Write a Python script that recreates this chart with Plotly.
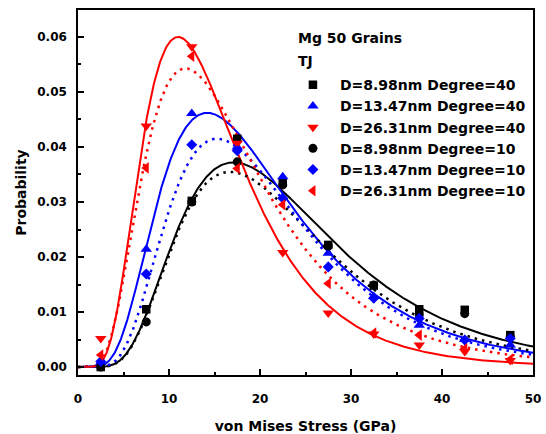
import numpy as np
import plotly.graph_objects as go

# Bin centres of the stress histogram (GPa)
stress = [2.5, 7.5, 12.5, 17.5, 22.5, 27.5, 32.5, 37.5, 42.5, 47.5]

# Probabilities per bin, misorientation degree 40
p_d898_deg40 = [0.0000, 0.0105, 0.0302, 0.0415, 0.0335, 0.0222, 0.0148, 0.0105, 0.0104, 0.0058]
p_d1347_deg40 = [0.0008, 0.0214, 0.0461, 0.0400, 0.0346, 0.0207, 0.0128, 0.0076, 0.0050, 0.0040]
p_d2631_deg40 = [0.0052, 0.0438, 0.0582, 0.0407, 0.0208, 0.0098, 0.0060, 0.0040, 0.0028, 0.0012]
# Probabilities per bin, misorientation degree 10
p_d898_deg10 = [0.0000, 0.0082, 0.0300, 0.0373, 0.0331, 0.0220, 0.0149, 0.0095, 0.0097, 0.0055]
p_d1347_deg10 = [0.0010, 0.0169, 0.0404, 0.0393, 0.0307, 0.0182, 0.0125, 0.0088, 0.0049, 0.0052]
p_d2631_deg10 = [0.0022, 0.0362, 0.0565, 0.0361, 0.0295, 0.0152, 0.0062, 0.0058, 0.0033, 0.0014]

series_names = [
    "D=8.98nm Degree=40",
    "D=13.47nm Degree=40",
    "D=26.31nm Degree=40",
    "D=8.98nm Degree=10",
    "D=13.47nm Degree=10",
    "D=26.31nm Degree=10",
]
series_values = [p_d898_deg40, p_d1347_deg40, p_d2631_deg40,
                 p_d898_deg10, p_d1347_deg10, p_d2631_deg10]
series_symbols = ["square", "triangle-up", "triangle-down",
                  "circle", "diamond", "triangle-left"]
series_sizes = [8.5, 10, 10, 9, 8.5, 10]
series_colors = ["#000000", "#0000ff", "#ff0000",
                 "#000000", "#0000ff", "#ff0000"]

# Log-normal fits: most probable stress (GPa), peak probability, log-width
fit_mode = [17.1, 14.2, 11.0, 16.7, 15.3, 11.8]
fit_peak = [0.0372, 0.0462, 0.0600, 0.0355, 0.0415, 0.0543]
fit_width = [0.50, 0.525, 0.50, 0.49, 0.49, 0.55]
fit_dash = ["solid", "solid", "solid", "2.5px,5px", "2.5px,5px", "2.5px,5px"]

x_fit = np.linspace(0.001, 50, 700)

fig = go.Figure()

for mode, peak, w, color, dash in zip(fit_mode, fit_peak, fit_width,
                                      series_colors, fit_dash):
    y_fit = peak * np.exp(-np.log(x_fit / mode) ** 2 / (2 * w ** 2))
    fig.add_trace(go.Scatter(
        x=x_fit, y=y_fit, mode="lines", showlegend=False, hoverinfo="skip",
        line=dict(color=color, width=2 if dash == "solid" else 2.5, dash=dash),
    ))

for name, vals, sym, size, color in zip(series_names, series_values,
                                        series_symbols, series_sizes,
                                        series_colors):
    fig.add_trace(go.Scatter(
        x=stress, y=vals, mode="markers", name=name,
        marker=dict(symbol=sym, size=size, color=color, line=dict(width=0)),
    ))

font_family = "DejaVu Sans"

fig.add_annotation(
    x=0.479, y=0.9225, xref="paper", yref="paper", xanchor="left",
    yanchor="middle", text="Mg 50 Grains", showarrow=False,
    font=dict(family=font_family, size=14, color="black", weight="bold"),
)
fig.add_annotation(
    x=0.479, y=0.860, xref="paper", yref="paper", xanchor="left",
    yanchor="middle", text="TJ", showarrow=False,
    font=dict(family=font_family, size=14, color="black", weight="bold"),
)

axis_common = dict(
    showline=True, linecolor="black", linewidth=1.5, mirror=True,
    ticks="inside", ticklen=6, tickwidth=1.5, tickcolor="black",
    showgrid=False, zeroline=False, automargin=False,
    tickfont=dict(family=font_family, size=12, color="black", weight="bold"),
)

fig.update_layout(
    width=546, height=434,
    margin=dict(l=78, r=13, t=10, b=59),
    paper_bgcolor="white", plot_bgcolor="white",
    font=dict(family=font_family, color="black", weight="bold"),
    xaxis=dict(
        range=[0, 50], tick0=0, dtick=10,
        minor=dict(dtick=5, ticks="inside", ticklen=3.5, tickwidth=1.5,
                   tickcolor="black"),
        ticklabelstandoff=12,
        title=dict(text="von Mises Stress (GPa)", standoff=17,
                   font=dict(family=font_family, size=14, color="black",
                             weight="bold")),
        **axis_common,
    ),
    yaxis=dict(
        range=[-0.00145, 0.0649], tick0=0, dtick=0.01, tickformat=".2f",
        minor=dict(dtick=0.005, ticks="inside", ticklen=3.5, tickwidth=1.5,
                   tickcolor="black"),
        ticklabelstandoff=7,
        title=dict(text="Probability", standoff=7,
                   font=dict(family=font_family, size=14, color="black",
                             weight="bold")),
        **axis_common,
    ),
    legend=dict(
        x=0.457, y=0.838, xanchor="left", yanchor="top",
        bgcolor="rgba(0,0,0,0)", borderwidth=0, itemwidth=44,
        font=dict(family=font_family, size=14, color="black", weight="bold"),
    ),
)

fig.write_html("out.html")
